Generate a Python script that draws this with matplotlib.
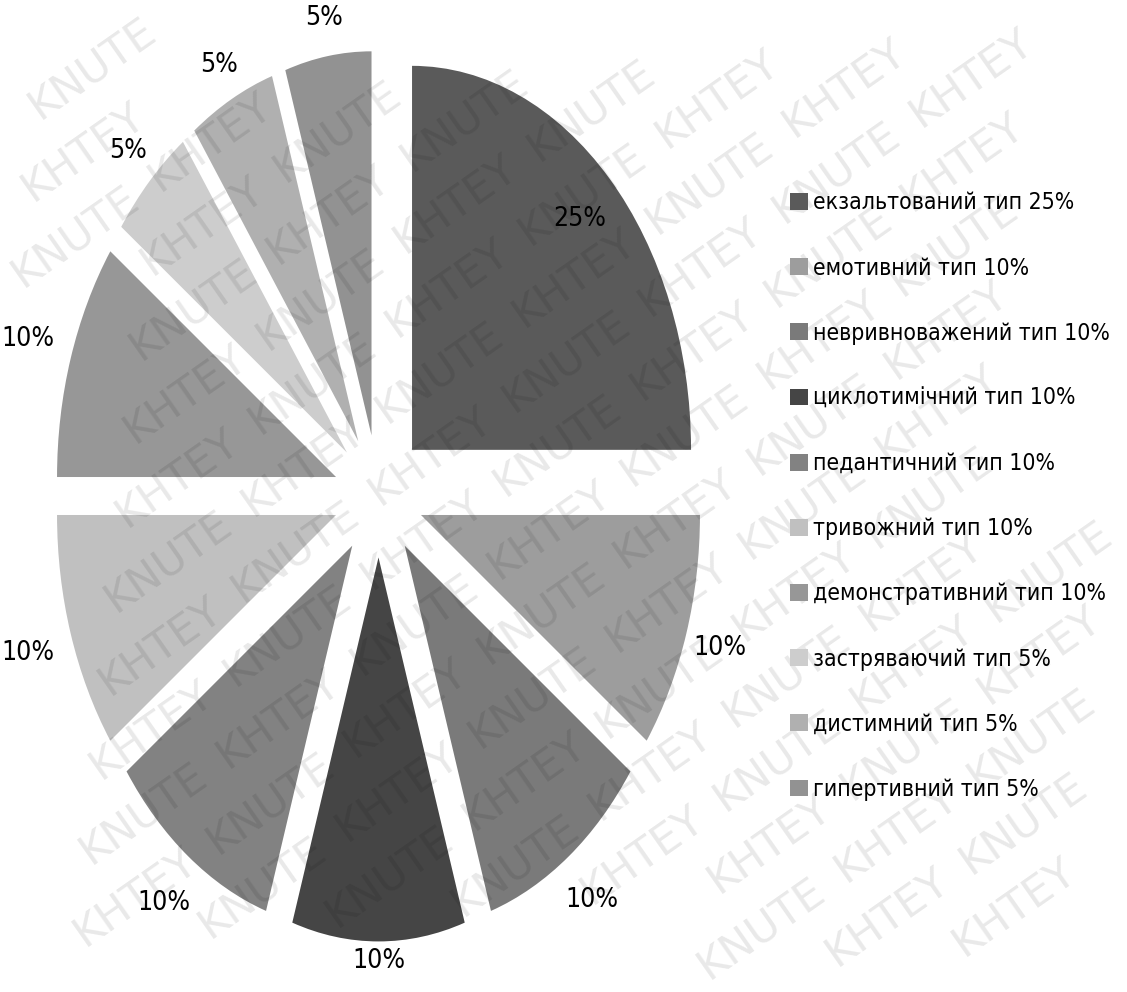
import matplotlib
matplotlib.use("Agg")
import matplotlib.pyplot as plt
import numpy as np

names = ["екзальтований тип", "емотивний тип", "невривноважений тип",
         "циклотимічний тип", "педантичний тип", "тривожний тип",
         "демонстративний тип", "застряваючий тип", "дистимний тип",
         "гипертивний тип"]
values = [25, 10, 10, 10, 10, 10, 10, 5, 5, 5]
colors = ["#5a5a5a", "#9d9d9d", "#7a7a7a", "#454545", "#828282",
          "#c0c0c0", "#979797", "#cdcdcd", "#b0b0b0", "#929292"]
# how far each % label sits from the slice tip (in radii)
label_dist = [0.85, 1.125, 1.14, 1.05, 1.15, 1.16, 1.16, 1.11, 1.10, 1.10]

plt.rcParams['font.family'] = ['DejaVu Sans']
plt.rcParams['font.stretch'] = 'condensed'

W, H = 1127, 992
fig = plt.figure(figsize=(W / 100, H / 100), dpi=100)

ax = fig.add_axes([0, 0, 757 / W, 1])
explode = [0.17] + [0.16] * 9
wedges, texts, autotexts = ax.pie(values, colors=colors, startangle=90, counterclock=False,
                                  explode=explode, autopct="%d%%",
                                  textprops=dict(fontsize=19, color="black",
                                                 stretch="condensed", zorder=5))
for w, t, e, d in zip(wedges, autotexts, explode, label_dist):
    mid = np.deg2rad((w.theta1 + w.theta2) / 2)
    t.set_position(((e + d) * np.cos(mid), (e + d) * np.sin(mid)))

ax.set_aspect("auto")
ax.set_xlim(-1.3566, 1.3566)
ax.set_ylim(-1.2917, 1.2917)

labels = [f"{n} {v}%" for n, v in zip(names, values)]
fig.legend(wedges, labels, loc="upper left", bbox_to_anchor=(779 / W, 1 - 180 / H),
           frameon=False, prop=dict(size=16.5, stretch="condensed"),
           handlelength=0.75, handleheight=0.75,
           handletextpad=0.25, labelspacing=1.84, borderpad=0)

# faint diagonal watermark, like the source scan
ang = np.deg2rad(35)
u = np.array([np.cos(ang), np.sin(ang)])
v = np.array([-np.sin(ang), np.cos(ang)])
words = ["KNUTE", "KHTEY"]
for i in range(-35, 35):
    for j in range(-20, 25):
        x, y = u * (j * 165 + (i % 3) * 55) + v * (i * 64)
        if 74 < x < W - 74 and 58 < y < H - 58:
            fig.text(x / W, y / H, words[(i + j) % 2], fontsize=31, color="black",
                     alpha=0.09, rotation=35, ha="center", va="center",
                     stretch="normal", zorder=3)

fig.savefig("out.png", dpi=100)
